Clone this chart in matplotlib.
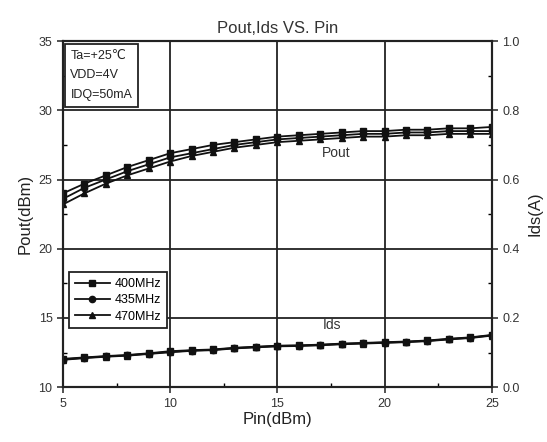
import matplotlib
matplotlib.use("Agg")
import matplotlib.pyplot as plt
from matplotlib.ticker import MultipleLocator

plt.rcParams['font.family'] = ['Liberation Sans', 'DejaVu Sans']

pin = list(range(5, 26))
pout_400 = [24.0, 24.7, 25.3, 25.9, 26.4, 26.9, 27.2, 27.5, 27.7, 27.9, 28.1, 28.2, 28.3, 28.4, 28.5, 28.5, 28.6, 28.6, 28.7, 28.7, 28.8]
pout_435 = [23.6, 24.4, 25.0, 25.6, 26.1, 26.6, 26.9, 27.2, 27.5, 27.7, 27.9, 28.0, 28.1, 28.2, 28.3, 28.3, 28.4, 28.4, 28.5, 28.5, 28.5]
pout_470 = [23.2, 24.0, 24.7, 25.3, 25.8, 26.3, 26.7, 27.0, 27.3, 27.5, 27.7, 27.8, 27.9, 28.0, 28.1, 28.1, 28.2, 28.2, 28.3, 28.3, 28.3]
ids_400 = [0.082, 0.086, 0.090, 0.093, 0.098, 0.104, 0.107, 0.109, 0.114, 0.117, 0.120, 0.121, 0.123, 0.126, 0.128, 0.130, 0.132, 0.135, 0.140, 0.144, 0.151]
ids_435 = [0.080, 0.085, 0.089, 0.092, 0.097, 0.102, 0.106, 0.108, 0.113, 0.116, 0.119, 0.120, 0.122, 0.125, 0.127, 0.129, 0.131, 0.134, 0.139, 0.143, 0.150]
ids_470 = [0.079, 0.084, 0.088, 0.091, 0.096, 0.101, 0.105, 0.107, 0.112, 0.115, 0.118, 0.119, 0.121, 0.124, 0.126, 0.128, 0.130, 0.133, 0.138, 0.142, 0.149]
labels = ['400MHz', '435MHz', '470MHz']
markers = ['s', 'o', '^']

fig = plt.figure(figsize=(5.47, 4.42), dpi=100)
ax = fig.add_axes([0.115, 0.124, 0.784, 0.783])
ax2 = ax.twinx()

c = '#111111'
lines = []
for y, m, lab in zip([pout_400, pout_435, pout_470], markers, labels):
    l, = ax.plot(pin, y, color=c, marker=m, markersize=4.5, linewidth=1.3, label=lab)
    lines.append(l)
for y, m in zip([ids_400, ids_435, ids_470], markers):
    ax2.plot(pin, y, color=c, marker=m, markersize=4.5, linewidth=1.3)

ax.set_xlim(5, 25)
ax.set_ylim(10, 35)
ax2.set_ylim(0, 1.0)
ax.xaxis.set_major_locator(MultipleLocator(5))
ax.xaxis.set_minor_locator(MultipleLocator(2.5))
ax.yaxis.set_major_locator(MultipleLocator(5))
ax.yaxis.set_minor_locator(MultipleLocator(2.5))
ax2.yaxis.set_major_locator(MultipleLocator(0.2))
ax2.yaxis.set_minor_locator(MultipleLocator(0.1))
ax2.yaxis.set_major_formatter(matplotlib.ticker.FormatStrFormatter('%.1f'))

ax.grid(True, which='major', color='#222222', linewidth=1.3)
for a in (ax, ax2):
    for s in a.spines.values():
        s.set_linewidth(1.5)
        s.set_color('#222222')
ax.tick_params(axis='both', which='major', labelsize=9, colors='#333333', length=4, width=1.2)
ax.tick_params(axis='both', which='minor', direction='in', length=3, width=1)
ax2.tick_params(axis='y', which='major', labelsize=9, colors='#333333', length=4, width=1.2)
ax2.tick_params(axis='y', which='minor', direction='in', length=3, width=1)

ax.set_xlabel('Pin(dBm)', fontsize=12, color='#222222', labelpad=2)
ax.set_ylabel('Pout(dBm)', fontsize=12, color='#222222', labelpad=4)
ax2.set_ylabel('Ids(A)', fontsize=12, color='#222222', labelpad=6)
ax.set_title('Pout,Ids VS. Pin', fontsize=12, color='#333333', pad=6)

ax2.text(0.0175, 0.975, 'Ta=+25\u2103\nVDD=4V\nIDQ=50mA', transform=ax2.transAxes,
         fontsize=9, va='top', ha='left', color='#222222', linespacing=1.85, zorder=10,
         bbox=dict(boxstyle='square,pad=0.45', facecolor='white', edgecolor='#222222', linewidth=1.3))

ax.text(17.1, 26.6, 'Pout', fontsize=10, color='#333333')
ax.text(17.1, 14.2, 'Ids', fontsize=10, color='#333333')

leg = ax2.legend(handles=lines, loc='upper left', bbox_to_anchor=(0.0, 0.35), fontsize=9,
                 frameon=True, fancybox=False, edgecolor='#222222', handlelength=2.8,
                 borderpad=0.45, labelspacing=0.35, handletextpad=0.4, framealpha=1)
leg.get_frame().set_linewidth(1.3)

fig.savefig('out.png', dpi=100)
